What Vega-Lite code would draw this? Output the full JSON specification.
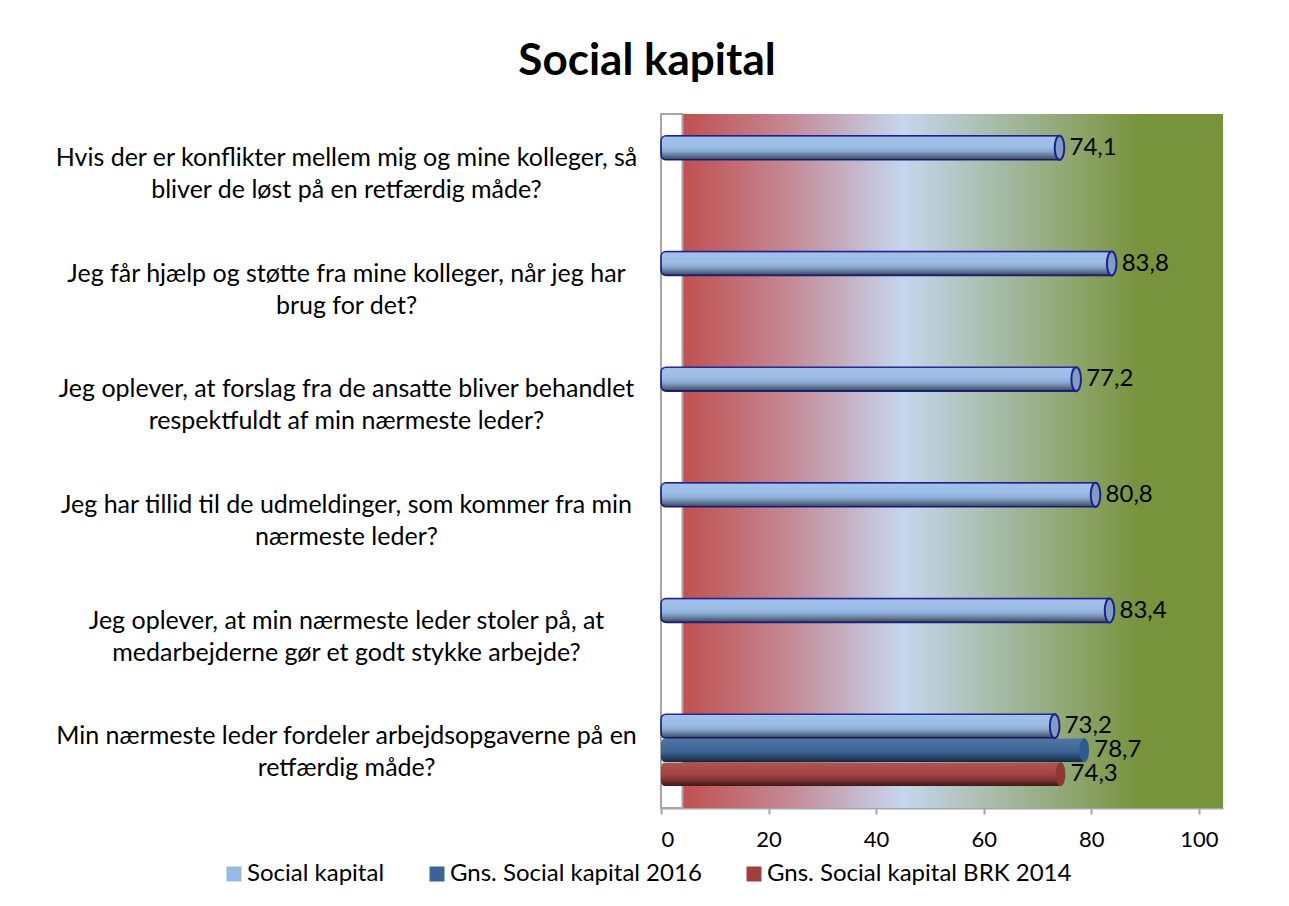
{
  "$schema": "https://vega.github.io/schema/vega-lite/v6.json",
  "width": 562,
  "height": 694,
  "autosize": {"type": "none"},
  "padding": {"left": 661, "top": 114, "right": 66, "bottom": 98},
  "background": "white",
  "config": {
    "font": "Lato",
    "view": {"stroke": null},
    "locale": {"number": {"decimal": ",", "thousands": ".", "grouping": [3], "currency": ["", " kr"]}}
  },
  "title": {
    "text": "Social kapital",
    "fontSize": 44,
    "fontWeight": "bold",
    "font": "Lato",
    "color": "black",
    "anchor": "middle",
    "frame": "group",
    "dx": -295,
    "offset": 29
  },
  "data": {
    "values": [
      {"question": "Hvis der er konflikter mellem mig og mine kolleger, så|bliver de løst på en retfærdig måde?", "series": "Social kapital", "value": 74.1},
      {"question": "Jeg får hjælp og støtte fra mine kolleger, når jeg har|brug for det?", "series": "Social kapital", "value": 83.8},
      {"question": "Jeg oplever, at forslag fra de ansatte bliver behandlet|respektfuldt af min nærmeste leder?", "series": "Social kapital", "value": 77.2},
      {"question": "Jeg har tillid til de udmeldinger, som kommer fra min|nærmeste leder?", "series": "Social kapital", "value": 80.8},
      {"question": "Jeg oplever, at min nærmeste leder stoler på, at|medarbejderne gør et godt stykke arbejde?", "series": "Social kapital", "value": 83.4},
      {"question": "Min nærmeste leder fordeler arbejdsopgaverne på en|retfærdig måde?", "series": "Social kapital", "value": 73.2},
      {"question": "Min nærmeste leder fordeler arbejdsopgaverne på en|retfærdig måde?", "series": "Gns. Social kapital 2016", "value": 78.7},
      {"question": "Min nærmeste leder fordeler arbejdsopgaverne på en|retfærdig måde?", "series": "Gns. Social kapital BRK 2014", "value": 74.3}
    ]
  },
  "layer": [
    {
      "data": {"values": [{"part": "plot"}]},
      "mark": {
        "type": "rect",
        "fill": {
          "gradient": "linear", "x1": 0, "y1": 0, "x2": 1, "y2": 0,
          "stops": [
            {"offset": 0, "color": "#C0504F"},
            {"offset": 0.2, "color": "#C48A96"},
            {"offset": 0.407, "color": "#C6D6EE"},
            {"offset": 0.846, "color": "#77933C"},
            {"offset": 1, "color": "#77933C"}
          ]
        }
      },
      "encoding": {
        "x": {"datum": 4, "type": "quantitative", "scale": {"domain": [0, 104.5], "nice": false}},
        "x2": {"datum": 104.5}
      }
    },
    {
      "data": {"values": [{"part": "wall"}]},
      "mark": {"type": "rect", "fill": "white", "stroke": "#A6A6A6", "strokeWidth": 2},
      "encoding": {
        "x": {"datum": 0, "type": "quantitative"},
        "x2": {"datum": 4}
      }
    },
    {
      "mark": {"type": "bar", "cornerRadiusTopLeft": 5, "cornerRadiusBottomLeft": 5, "strokeWidth": 1.5},
      "encoding": {
        "y": {
          "field": "question", "type": "nominal", "sort": null,
          "scale": {"paddingInner": 0, "paddingOuter": 0},
          "axis": {
            "title": null, "domain": false, "ticks": false, "tickSize": 0, "grid": false,
            "labelAlign": "center", "labelPadding": 315, "labelFontSize": 25,
            "labelColor": "black", "labelLineHeight": 32, "labelLimit": 800,
            "labelOffset": -14,
            "labelExpr": "split(datum.label, '|')"
          }
        },
        "yOffset": {
          "field": "series", "type": "nominal",
          "sort": ["Social kapital", "Gns. Social kapital 2016", "Gns. Social kapital BRK 2014"],
          "scale": {"paddingInner": 0, "paddingOuter": 0.91}
        },
        "x": {
          "field": "value", "type": "quantitative",
          "scale": {"domain": [0, 104.5], "nice": false},
          "axis": {
            "title": null, "values": [0, 20, 40, 60, 80, 100], "grid": false,
            "domainColor": "#A6A6A6", "domainWidth": 2, "tickColor": "#A6A6A6",
            "tickWidth": 2, "tickSize": 6, "labelFontSize": 22, "labelColor": "black",
            "labelPadding": 15, "format": "d"
          }
        },
        "color": {
          "field": "series", "type": "nominal",
          "scale": {
            "domain": ["Social kapital", "Gns. Social kapital 2016", "Gns. Social kapital BRK 2014"],
            "range": ["#96BAE6", "#3A6396", "#A0403E"]
          },
          "legend": {
            "orient": "none", "legendX": -439, "legendY": 748, "direction": "horizontal",
            "title": null, "symbolType": "square", "symbolSize": 225,
            "labelFontSize": 24, "labelColor": "black", "columnPadding": 40,
            "labelOffset": 1, "labelLimit": 0,
            "encode": {
              "symbols": {
                "update": {
                  "stroke": [
                    {"test": "datum.value === 'Social kapital'", "value": "#1F1F90"},
                    {"value": "transparent"}
                  ],
                  "strokeWidth": {"value": 2}
                }
              }
            }
          }
        },
        "stroke": {
          "condition": {"test": "datum.series === 'Social kapital'", "value": "#1F1F90"},
          "value": null
        }
      }
    },
    {
      "mark": {
        "type": "bar", "cornerRadiusTopLeft": 5, "cornerRadiusBottomLeft": 5,
        "fill": {
          "gradient": "linear", "x1": 0, "y1": 0, "x2": 0, "y2": 1,
          "stops": [
            {"offset": 0, "color": "rgba(255,255,255,0.12)"},
            {"offset": 0.4, "color": "rgba(255,255,255,0.04)"},
            {"offset": 0.65, "color": "rgba(0,0,0,0.1)"},
            {"offset": 1, "color": "rgba(0,0,0,0.62)"}
          ]
        }
      },
      "encoding": {
        "y": {"field": "question", "type": "nominal", "sort": null},
        "yOffset": {"field": "series", "type": "nominal", "sort": ["Social kapital", "Gns. Social kapital 2016", "Gns. Social kapital BRK 2014"]},
        "x": {"field": "value", "type": "quantitative"}
      }
    },
    {
      "mark": {
        "type": "point", "filled": true, "size": 576, "strokeWidth": 2, "opacity": 1,
        "shape": "M0,-1 A0.4,1 0 1,1 0,1 A0.4,1 0 1,1 0,-1 Z"
      },
      "encoding": {
        "y": {"field": "question", "type": "nominal", "sort": null},
        "yOffset": {"field": "series", "type": "nominal", "sort": ["Social kapital", "Gns. Social kapital 2016", "Gns. Social kapital BRK 2014"]},
        "x": {"field": "value", "type": "quantitative"},
        "fill": {
          "field": "series", "type": "nominal", "legend": null,
          "scale": {
            "domain": ["Social kapital", "Gns. Social kapital 2016", "Gns. Social kapital BRK 2014"],
            "range": ["#7F9CC2", "#2F5A8E", "#8E3735"]
          }
        },
        "stroke": {
          "condition": {"test": "datum.series === 'Social kapital'", "value": "#1F1F90"},
          "value": null
        }
      }
    },
    {
      "mark": {"type": "text", "align": "left", "baseline": "middle", "dx": 10, "fontSize": 24, "color": "black"},
      "encoding": {
        "y": {"field": "question", "type": "nominal", "sort": null},
        "yOffset": {"field": "series", "type": "nominal", "sort": ["Social kapital", "Gns. Social kapital 2016", "Gns. Social kapital BRK 2014"]},
        "x": {"field": "value", "type": "quantitative"},
        "text": {"field": "value", "type": "quantitative", "format": ".1f"}
      }
    }
  ]
}
